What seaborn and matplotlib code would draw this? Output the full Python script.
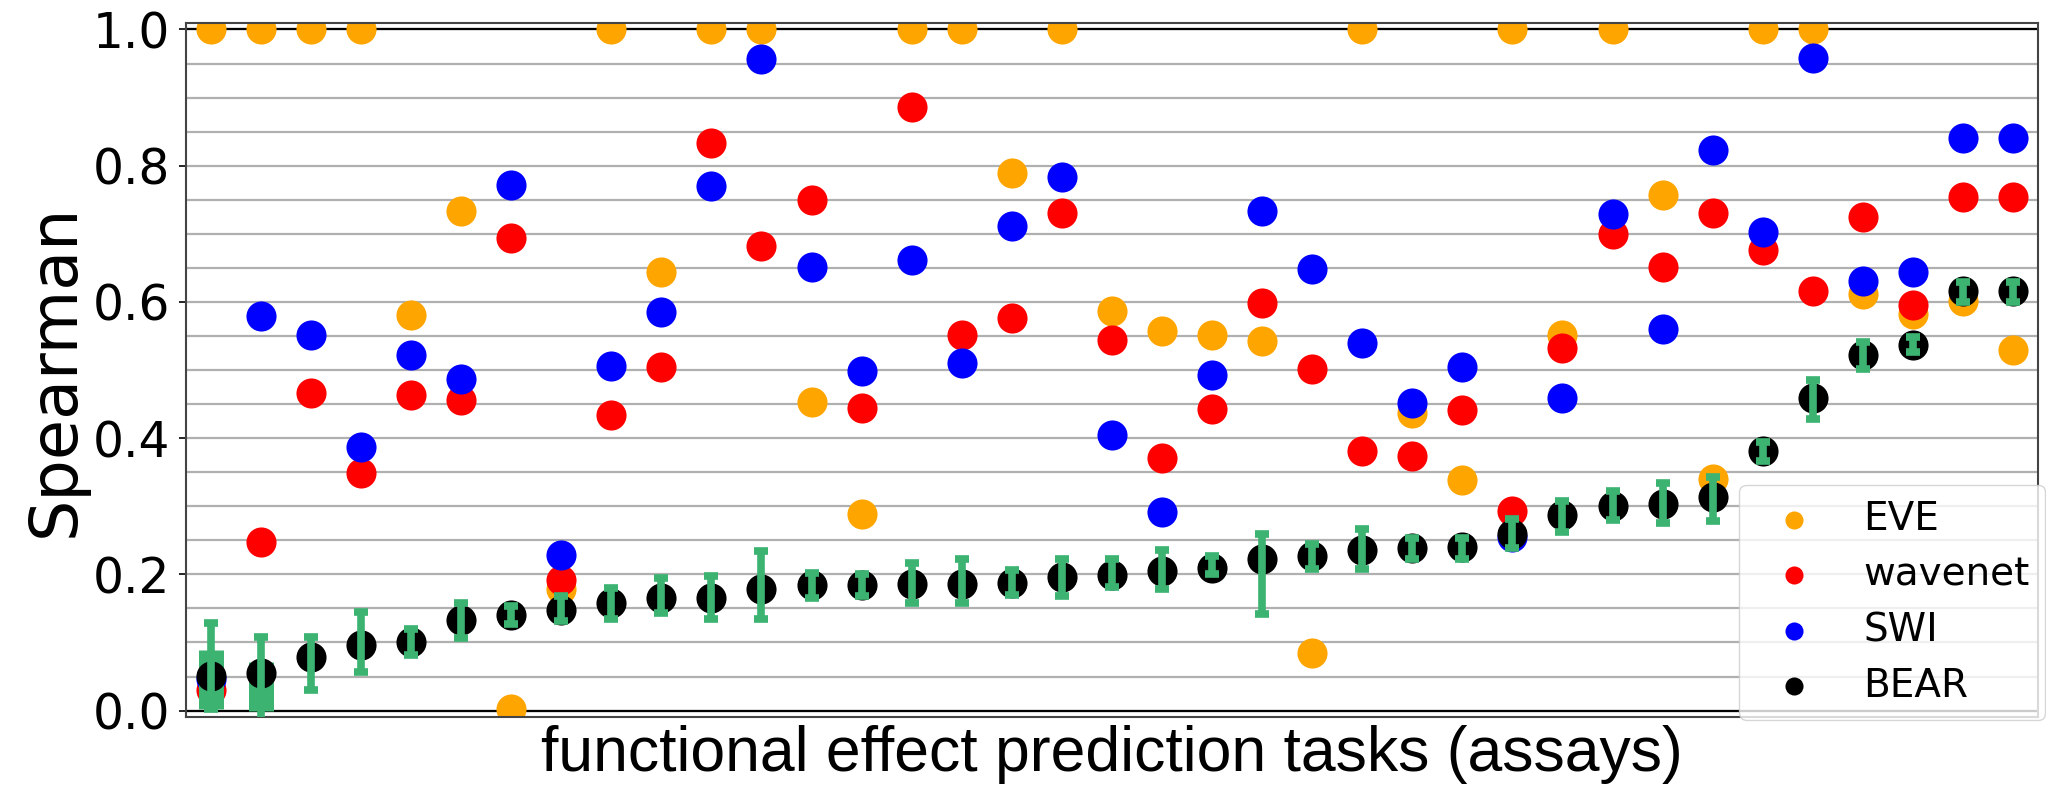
import numpy as np
import pandas as pd
import matplotlib
matplotlib.use("Agg")
import matplotlib.pyplot as plt
import seaborn as sns
from matplotlib.ticker import MultipleLocator

# Spearman correlation per functional-effect assay, ordered by BEAR score
eve = [1.0, 1.0, 1.0, 1.0, 0.581, 0.734, 0.003, 0.179, 1.0, 0.644,
       1.0, 1.0, 0.453, 0.288, 1.0, 1.0, 0.789, 1.0, 0.587, 0.558,
       0.552, 0.542, 0.084, 1.0, 0.437, 0.339, 1.0, 0.552, 1.0, 0.757,
       0.340, 1.0, 1.0, 0.611, 0.583, 0.601, 0.530]
wavenet = [0.030, 0.247, 0.467, 0.349, 0.463, 0.456, 0.694, 0.192, 0.434, 0.504,
           0.834, 0.682, 0.750, 0.445, 0.886, 0.552, 0.577, 0.731, 0.544, 0.371,
           0.443, 0.598, 0.502, 0.381, 0.374, 0.442, 0.293, 0.533, 0.699, 0.651,
           0.730, 0.676, 0.616, 0.724, 0.596, 0.754, 0.754]
swi = [0.046, 0.579, 0.552, 0.387, 0.522, 0.487, 0.771, 0.228, 0.506, 0.585,
       0.770, 0.956, 0.651, 0.499, 0.662, 0.510, 0.711, 0.783, 0.405, 0.291,
       0.493, 0.734, 0.649, 0.539, 0.452, 0.505, 0.255, 0.459, 0.729, 0.560,
       0.823, 0.703, 0.958, 0.631, 0.644, 0.841, 0.841]
bear = [0.051, 0.055, 0.078, 0.097, 0.101, 0.133, 0.140, 0.148, 0.158, 0.165,
        0.165, 0.179, 0.184, 0.185, 0.186, 0.186, 0.188, 0.196, 0.199, 0.205,
        0.210, 0.222, 0.227, 0.236, 0.239, 0.240, 0.260, 0.287, 0.301, 0.304,
        0.313, 0.381, 0.459, 0.522, 0.537, 0.616, 0.616]
# BEAR uncertainty interval
bear_hi = [0.129, 0.108, 0.108, 0.145, 0.120, 0.158, 0.153, 0.168, 0.180, 0.195,
           0.197, 0.234, 0.202, 0.201, 0.217, 0.222, 0.207, 0.222, 0.223, 0.236,
           0.227, 0.260, 0.244, 0.267, 0.254, 0.254, 0.282, 0.307, 0.323, 0.334,
           0.343, 0.394, 0.485, 0.541, 0.548, 0.629, 0.629]
bear_lo = [0.003, -0.020, 0.030, 0.057, 0.081, 0.106, 0.127, 0.131, 0.134, 0.143,
           0.134, 0.134, 0.166, 0.168, 0.158, 0.158, 0.170, 0.168, 0.182, 0.179,
           0.201, 0.142, 0.208, 0.208, 0.222, 0.223, 0.239, 0.262, 0.280, 0.275,
           0.278, 0.367, 0.428, 0.502, 0.527, 0.600, 0.600]
# inner range shown for the two noisiest assays
band_tasks = [0, 1]
band_lo = [0.003, 0.000]
band_hi = [0.089, 0.072]

methods = ["EVE", "wavenet", "SWI", "BEAR"]
colors = {"EVE": "orange", "wavenet": "red", "SWI": "blue", "BEAR": "black"}
green = "mediumseagreen"

tasks = np.arange(len(bear))
df = pd.DataFrame({"task": np.tile(tasks, 4),
                   "spearman": np.concatenate([eve, wavenet, swi, bear]),
                   "method": np.repeat(methods, len(tasks))})

plt.rcParams["font.family"] = ["DejaVu Sans"]
fig = plt.figure(figsize=(20.46, 7.89), dpi=100)
ax = fig.add_axes([0.0908, 0.0916, 0.9053, 0.8788])

# grid every 0.05, black reference lines at 0 and 1
ax.yaxis.set_major_locator(MultipleLocator(0.2))
ax.yaxis.set_minor_locator(MultipleLocator(0.05))
ax.grid(True, axis="y", which="both", color="#b0b0b0", linewidth=1.6, zorder=0)
ax.set_axisbelow(True)
ax.axhline(0.0, color="black", linewidth=1.6, zorder=1)
ax.axhline(1.0, color="black", linewidth=1.6, zorder=1)

zorders = {"EVE": 2, "wavenet": 3, "SWI": 4, "BEAR": 6}
for m in methods:
    sub = df[df["method"] == m]
    sns.scatterplot(data=sub, x="task", y="spearman", color=colors[m], s=470,
                    linewidth=0, label=m, ax=ax, zorder=zorders[m])

ax.vlines(band_tasks, band_lo, band_hi, color=green, linewidth=18, zorder=5)

bear_arr = np.array(bear)
yerr = np.vstack([bear_arr - np.array(bear_lo), np.array(bear_hi) - bear_arr])
ax.errorbar(tasks, bear_arr, yerr=yerr, fmt="none", ecolor=green,
            elinewidth=5.5, capsize=5.2, capthick=5.5, zorder=7)

ax.set_xlim(-0.5, len(tasks) - 0.5)
ax.set_ylim(-0.009, 1.009)
ax.set_xticks([])
ax.tick_params(axis="y", which="major", labelsize=35, length=5, width=1.2, pad=6)
ax.tick_params(axis="y", which="minor", length=0)
for s in ax.spines.values():
    s.set_color("#444444")
    s.set_linewidth(1.5)

ax.set_ylabel("Spearman", fontsize=47, labelpad=4)
ax.set_xlabel("functional effect prediction tasks (assays)", fontsize=45,
              family=["Liberation Sans", "DejaVu Sans"], labelpad=6)

ax.legend(loc="lower right", bbox_to_anchor=(1.004, -0.005), borderaxespad=0,
          fontsize=28, markerscale=0.6, labelspacing=0.45)

fig.savefig("out.png", dpi=100)
